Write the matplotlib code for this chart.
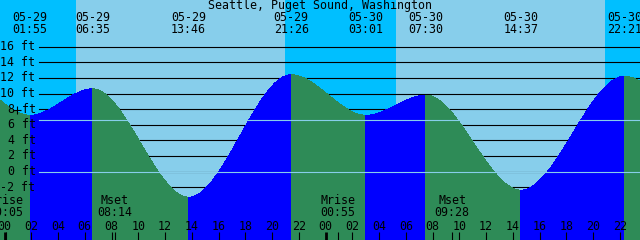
import matplotlib
matplotlib.use("Agg")
import matplotlib.pyplot as plt
import matplotlib.transforms as mtransforms
from matplotlib.path import Path
from matplotlib.patches import PathPatch

station = "Seattle, Puget Sound, Washington"

# highs and lows (the first and last ones fall just outside the window)
tide_days = [-1, 0, 0, 0, 0, 1, 1, 1, 1, 2]
tide_dates = ["05-28", "05-29", "05-29", "05-29", "05-29", "05-30", "05-30", "05-30", "05-30", "05-31"]
tide_times = ["20:45", "01:55", "06:35", "13:46", "21:26", "03:01", "07:30", "14:37", "22:21", "03:50"]
tide_heights = [12.0, 7.2, 10.6, -3.3, 12.4, 7.2, 9.8, -2.4, 12.2, 7.0]

# sunrise / sunset
sun_days = [0, 0, 1, 1]
sun_times = ["05:21", "20:58", "05:16", "20:54"]

# moon rise / set
moon_names = ["Mrise", "Mset", "Mrise", "Mset"]
moon_days = [0, 0, 1, 1]
moon_times = ["00:05", "08:14", "00:55", "09:28"]

# marker on the curve
now_day, now_time, now_height = 0, "00:55", 7.9

depth_levels = [-2, 0, 2, 4, 6, 8, 10, 12, 14, 16]
datum_level = 0
mean_level = 6.6

day_color = "#87CEEB"
night_color = "#00BFFF"
flood_color = "#0000FF"
ebb_color = "#2E8B57"

font = "DejaVu Sans Mono"
fs = 8.4


def hours(day, hhmm):
    h, m = hhmm.split(":")
    return day * 24 + int(h) + int(m) / 60


# pixel scale of the original picture
W, H = 640, 240
x0_px, px_per_hr = 4.5, 13.375
y0_px, px_per_ft = 171.5, 7.8
xmin = -x0_px / px_per_hr
xmax = (W - x0_px) / px_per_hr
ytop = y0_px / px_per_ft
ybot = -(H - y0_px) / px_per_ft


def ay(ypx):
    return 1 - ypx / H


fig = plt.figure(figsize=(6.4, 2.4), dpi=100)
fig.patch.set_facecolor(day_color)
ax = fig.add_axes([0, 0, 1, 1])
ax.set_xlim(xmin, xmax)
ax.set_ylim(ybot, ytop)
ax.set_axis_off()
trans = mtransforms.blended_transform_factory(ax.transData, ax.transAxes)

# night bands
sun_t = [hours(d, s) for d, s in zip(sun_days, sun_times)]
edges = [xmin - 1] + sun_t + [xmax + 1]
for a, b in zip(edges[0::2], edges[1::2]):
    ax.axvspan(a, b, color=night_color, lw=0, zorder=0, antialiased=False)

# depth lines
for lev in depth_levels:
    ax.axhline(lev, xmin=39 / W, xmax=1, color="black", lw=0.8, zorder=1)

# water, one smooth segment between each high and low
tide_t = [hours(d, s) for d, s in zip(tide_days, tide_times)]
for i in range(len(tide_t) - 1):
    t0, t1 = tide_t[i], tide_t[i + 1]
    h0, h1 = tide_heights[i], tide_heights[i + 1]
    d = t1 - t0
    verts = [(t0, ybot - 1), (t0, h0), (t0 + d / 3, h0), (t0 + 2 * d / 3, h1),
             (t1, h1), (t1, ybot - 1), (t0, ybot - 1)]
    codes = [Path.MOVETO, Path.LINETO, Path.CURVE4, Path.CURVE4, Path.CURVE4,
             Path.LINETO, Path.CLOSEPOLY]
    col = flood_color if h1 > h0 else ebb_color
    ax.add_patch(PathPatch(Path(verts, codes), facecolor=col, lw=0,
                           zorder=2, antialiased=False))

# datum and mean level
for lev in [datum_level, mean_level]:
    ax.axhline(lev, xmin=39 / W, xmax=1, color=day_color, lw=0.8, zorder=3)

# depth labels
for lev in depth_levels:
    ax.text(35.5 / W, lev, f"{lev} ft", transform=mtransforms.blended_transform_factory(ax.transAxes, ax.transData),
            ha="right", va="center", family=font, fontsize=fs, zorder=5)

ax.plot(hours(now_day, now_time), now_height, marker="+", color="black",
        ms=5.5, mew=0.8, zorder=6)

# title and tide event labels
ax.text(0.5, ay(6), station, transform=ax.transAxes, ha="center", va="center",
        family=font, fontsize=fs, zorder=5)
for t, dt, tm in zip(tide_t, tide_dates, tide_times):
    if xmin - 2 < t < xmax + 2:
        ax.text(t, ay(17.5), dt, transform=trans, ha="center", va="center",
                family=font, fontsize=fs, zorder=5)
        ax.text(t, ay(29.5), tm, transform=trans, ha="center", va="center",
                family=font, fontsize=fs, zorder=5)

# hour ticks
for h in range(0, 48, 2):
    lw = 2.0 if h % 24 == 0 else 0.8
    ax.plot([h, h], [ay(232), 0], transform=trans, color="black", lw=lw,
            solid_capstyle="butt", zorder=5)
    ax.text(h, ay(226), f"{h % 24:02d}", transform=trans, ha="center",
            va="center", family=font, fontsize=fs, zorder=5)

# moon events
for name, d, tm in zip(moon_names, moon_days, moon_times):
    t = hours(d, tm)
    ax.plot([t, t], [ay(232), 0], transform=trans, color="black", lw=0.8,
            solid_capstyle="butt", zorder=5)
    ax.text(t, ay(201), name, transform=trans, ha="center", va="center",
            family=font, fontsize=fs, zorder=5)
    ax.text(t, ay(213), tm, transform=trans, ha="center", va="center",
            family=font, fontsize=fs, zorder=5)

fig.savefig("out.png", dpi=100, facecolor=fig.get_facecolor())
